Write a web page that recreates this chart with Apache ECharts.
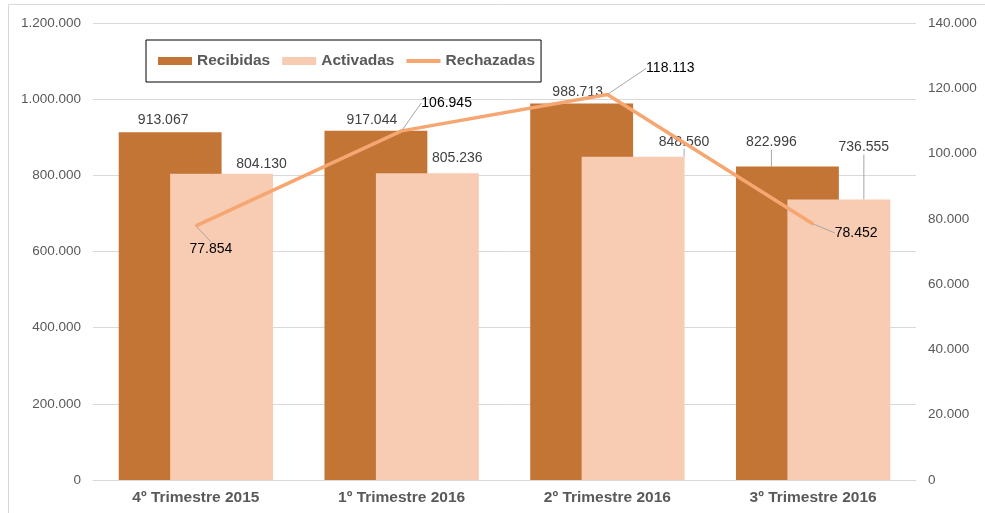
<!DOCTYPE html>
<html>
<head>
<meta charset="utf-8">
<script src="https://cdn.jsdelivr.net/npm/echarts@6/dist/echarts.min.js"></script>
<style>
  html, body { margin: 0; padding: 0; background: #fff; }
  #chart-panel { width: 985px; height: 513px; }
</style>
</head>
<body>
<div id="chart-panel"></div>
<script>
const categories = ["4º Trimestre 2015", "1º Trimestre 2016", "2º Trimestre 2016", "3º Trimestre 2016"]
const recibidas = [913067, 917044, 988713, 822996]
const activadas = [804130, 805236, 848560, 736555]
const rechazadas = [77854, 106945, 118113, 78452]
const leftTicks = { min: 0, max: 1200000, interval: 200000 }
const rightTicks = { min: 0, max: 140000, interval: 20000 }

// label shifts (px) away from their default spot, Excel-like leader lines
const shiftRecibidas = [[-7, 0], [-4, 1], [-4, 1], [-16, -12]]
const shiftActivadas = [[40, 2], [30, -3], [51, -3], [25, -40]]
const shiftRechazadas = [[15, 36], [45, -15], [63, -13], [43, 22]]
// which labels get a leader line
const lineRecibidas = [false, false, false, true]
const lineActivadas = [false, false, true, true]
const lineRechazadas = [true, true, true, true]

const fmt = (v) => String(v).replace(/\B(?=(\d{3})+(?!\d))/g, ".")
const FONT = "Liberation Sans, Arial, sans-serif"

const chart = echarts.init(document.getElementById("chart-panel"))

const shiftLayout = (arr) => (params) => ({
  dx: arr[params.dataIndex][0],
  dy: arr[params.dataIndex][1]
})

const withLeader = (values, flags) =>
  values.map((v, i) => ({
    value: v,
    labelLine: { show: flags[i], lineStyle: { color: "#a6a6a6", width: 1 } }
  }))

const valueLabel = (color) => ({
  show: true,
  position: "top",
  color: color,
  fontSize: 14,
  fontFamily: FONT,
  formatter: (p) => fmt(p.value)
})

const options = {
  animation: false,
  textStyle: { fontFamily: FONT },
  graphic: [
    {
      type: "rect",
      shape: { x: 8.5, y: 4.5, width: 1000, height: 540 },
      style: { fill: "none", stroke: "#d9d9d9", lineWidth: 1 },
      silent: true
    }
  ],
  legend: {
    left: 146,
    top: 40,
    padding: [13, 6, 13, 12],
    borderColor: "#000",
    borderWidth: 1,
    itemWidth: 34,
    itemHeight: 8,
    itemGap: 12,
    textStyle: { color: "#595959", fontSize: 15.5, fontWeight: "bold", fontFamily: FONT },
    data: [
      { name: "Recibidas", icon: "rect" },
      { name: "Activadas", icon: "rect" },
      { name: "Rechazadas", icon: "path://M0,0 L34,0 L34,4 L0,4 Z" }
    ]
  },
  grid: { left: 93, right: 69, top: 23, bottom: 33 },
  xAxis: {
    type: "category",
    data: categories,
    axisLine: { show: true, lineStyle: { color: "#d9d9d9" } },
    axisTick: { show: false },
    axisLabel: { color: "#595959", fontSize: 15.5, fontWeight: "bold", margin: 10, fontFamily: FONT }
  },
  yAxis: [
    {
      type: "value",
      min: leftTicks.min,
      max: leftTicks.max,
      interval: leftTicks.interval,
      axisLine: { show: false },
      axisTick: { show: false },
      axisLabel: { color: "#595959", fontSize: 13.5, margin: 12, formatter: fmt, fontFamily: FONT },
      splitLine: { lineStyle: { color: "#d9d9d9" } }
    },
    {
      type: "value",
      min: rightTicks.min,
      max: rightTicks.max,
      interval: rightTicks.interval,
      axisLine: { show: false },
      axisTick: { show: false },
      axisLabel: { color: "#595959", fontSize: 13.5, margin: 12, formatter: fmt, fontFamily: FONT },
      splitLine: { show: false }
    }
  ],
  series: [
    {
      name: "Recibidas",
      type: "bar",
      data: withLeader(recibidas, lineRecibidas),
      barWidth: "50%",
      barGap: "-50%",
      itemStyle: { color: "#c27535" },
      label: valueLabel("#404040"),
      labelLayout: shiftLayout(shiftRecibidas)
    },
    {
      name: "Activadas",
      type: "bar",
      data: withLeader(activadas, lineActivadas),
      barWidth: "50%",
      itemStyle: { color: "#f8cbb3" },
      label: valueLabel("#404040"),
      labelLayout: shiftLayout(shiftActivadas)
    },
    {
      name: "Rechazadas",
      type: "line",
      yAxisIndex: 1,
      data: withLeader(rechazadas, lineRechazadas),
      symbol: "circle",
      symbolSize: 2,
      itemStyle: { color: "#f6a670" },
      lineStyle: { color: "#f6a670", width: 3.5 },
      label: valueLabel("#000"),
      labelLayout: shiftLayout(shiftRechazadas),
      z: 5
    }
  ]
}
chart.setOption(options)
</script>
</body>
</html>
